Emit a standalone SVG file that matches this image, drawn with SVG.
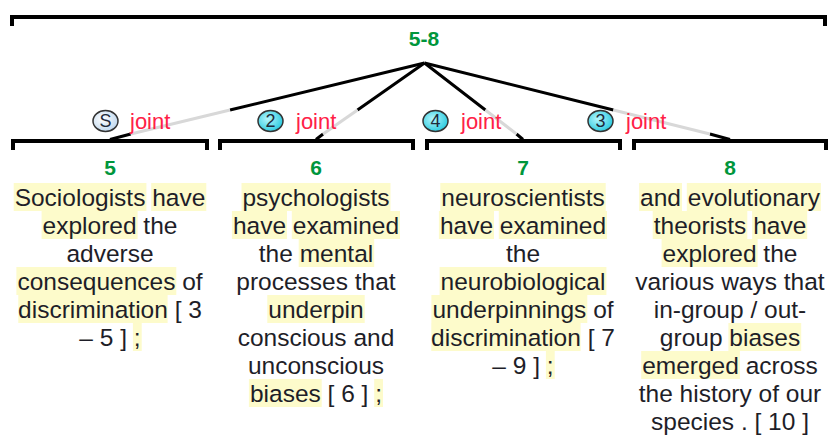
<svg xmlns="http://www.w3.org/2000/svg" width="831" height="435" viewBox="0 0 831 435">
<defs>
<radialGradient id="gS" cx="0.4" cy="0.4" r="0.7"><stop offset="0" stop-color="#ffffff"/><stop offset="1" stop-color="#b9d3ec"/></radialGradient>
<radialGradient id="gN" cx="0.4" cy="0.4" r="0.7"><stop offset="0" stop-color="#b5f6fc"/><stop offset="1" stop-color="#1cc6dc"/></radialGradient>
</defs>
<style>
.br{fill:none;stroke:#000;stroke-width:4;stroke-linejoin:miter}
.ln{stroke:#000;stroke-width:3;fill:none}
.lg{stroke:#d8d8d8;stroke-width:3;fill:none}
.id{font-family:"Liberation Sans",Arial,sans-serif;font-weight:bold;font-size:21px;fill:#00963c;text-anchor:middle}
.tx{font-family:"Liberation Sans",Arial,sans-serif;font-size:24.5px;fill:#1e1e28;text-anchor:middle}
.hl{fill:#fdfbcb}
.rl{font-family:"Liberation Sans",Arial,sans-serif;font-size:22px;fill:#ff2046}
.ct{font-family:"Liberation Sans",Arial,sans-serif;font-size:18px;fill:#1e2a3a;text-anchor:middle}
.cS{fill:url(#gS);stroke:#333;stroke-width:1.5}
.cN{fill:url(#gN);stroke:#333;stroke-width:1.5}
</style>
<rect width="831" height="435" fill="#fff"/>

<g id="connectors">
<path class="ln" d="M424.5 63 L230 110 M130.7 134 L110 139.5"/>
<path class="lg" d="M230 110 L130.7 134"/>
<path class="ln" d="M424.5 63 L357.5 110 M323.1 134 L316 139.5"/>
<path class="lg" d="M357.5 110 L323.1 134"/>
<path class="ln" d="M424.5 63 L485.4 110 M516.5 134 L523 139.5"/>
<path class="lg" d="M485.4 110 L516.5 134"/>
<path class="ln" d="M424.5 63 L613.4 110 M709.9 134 L730 139.5"/>
<path class="lg" d="M613.4 110 L709.9 134"/>
</g>

<g id="rel-5">
<ellipse class="cS" cx="105.5" cy="121" rx="12.5" ry="10.5"/>
<text class="ct" x="105.5" y="127.3">S</text>
<text class="rl" x="130" y="129">joint</text>
</g>
<g id="rel-6">
<ellipse class="cN" cx="270.5" cy="121" rx="12.5" ry="10.5"/>
<text class="ct" x="270.5" y="127.3">2</text>
<text class="rl" x="296" y="129">joint</text>
</g>
<g id="rel-7">
<ellipse class="cN" cx="435.5" cy="121" rx="12.5" ry="10.5"/>
<text class="ct" x="435.5" y="127.3">4</text>
<text class="rl" x="461" y="129">joint</text>
</g>
<g id="rel-8">
<ellipse class="cN" cx="600.5" cy="121" rx="12.5" ry="10.5"/>
<text class="ct" x="600.5" y="127.3">3</text>
<text class="rl" x="626" y="129">joint</text>
</g>

<g id="node-5-8">
<path class="br" d="M12 26 V17 H825 V26"/>
<text class="id" x="424" y="46">5-8</text>
</g>

<g id="node-5">
<path class="br" d="M13 150 V141 H207 V150"/>
<text class="id" x="110" y="175">5</text>
<rect class="hl" x="13.7" y="183" width="132.7" height="28"/>
<rect class="hl" x="151.2" y="183" width="55.1" height="28"/>
<rect class="hl" x="41.6" y="211" width="96" height="28"/>
<rect class="hl" x="16.4" y="267" width="159.9" height="28"/>
<rect class="hl" x="18.3" y="295" width="149.3" height="28"/>
<rect class="hl" x="132.9" y="323" width="8.8" height="28"/>
<text class="tx" x="110" y="206">Sociologists have</text>
<text class="tx" x="110" y="234">explored the</text>
<text class="tx" x="110" y="262">adverse</text>
<text class="tx" x="110" y="290">consequences of</text>
<text class="tx" x="110" y="318">discrimination [ 3</text>
<text class="tx" x="110" y="346">– 5 ] ;</text>
</g>

<g id="node-6">
<path class="br" d="M220 150 V141 H413 V150"/>
<text class="id" x="316" y="175">6</text>
<rect class="hl" x="241.5" y="183" width="149" height="28"/>
<rect class="hl" x="231.9" y="211" width="55.1" height="28"/>
<rect class="hl" x="291.8" y="211" width="108.2" height="28"/>
<rect class="hl" x="298.7" y="239" width="75.5" height="28"/>
<rect class="hl" x="267.3" y="295" width="97.4" height="28"/>
<rect class="hl" x="248.9" y="379" width="72.8" height="28"/>
<rect class="hl" x="374.2" y="379" width="8.8" height="28"/>
<text class="tx" x="316" y="206">psychologists</text>
<text class="tx" x="316" y="234">have examined</text>
<text class="tx" x="316" y="262">the mental</text>
<text class="tx" x="316" y="290">processes that</text>
<text class="tx" x="316" y="318">underpin</text>
<text class="tx" x="316" y="346">conscious and</text>
<text class="tx" x="316" y="374">unconscious</text>
<text class="tx" x="316" y="402">biases [ 6 ] ;</text>
</g>

<g id="node-7">
<path class="br" d="M427 150 V141 H620 V150"/>
<text class="id" x="523" y="175">7</text>
<rect class="hl" x="440.3" y="183" width="165.4" height="28"/>
<rect class="hl" x="438.9" y="211" width="55.1" height="28"/>
<rect class="hl" x="498.8" y="211" width="108.2" height="28"/>
<rect class="hl" x="439.6" y="267" width="166.8" height="28"/>
<rect class="hl" x="431.4" y="295" width="155.9" height="28"/>
<rect class="hl" x="431.3" y="323" width="149.3" height="28"/>
<rect class="hl" x="545.9" y="351" width="8.8" height="28"/>
<text class="tx" x="523" y="206">neuroscientists</text>
<text class="tx" x="523" y="234">have examined</text>
<text class="tx" x="523" y="262">the</text>
<text class="tx" x="523" y="290">neurobiological</text>
<text class="tx" x="523" y="318">underpinnings of</text>
<text class="tx" x="523" y="346">discrimination [ 7</text>
<text class="tx" x="523" y="374">– 9 ] ;</text>
</g>

<g id="node-8">
<path class="br" d="M634 150 V141 H826 V150"/>
<text class="id" x="730" y="175">8</text>
<rect class="hl" x="639.1" y="183" width="42.9" height="28"/>
<rect class="hl" x="686.8" y="183" width="134.1" height="28"/>
<rect class="hl" x="652.7" y="211" width="94.6" height="28"/>
<rect class="hl" x="752.1" y="211" width="55.1" height="28"/>
<rect class="hl" x="661.6" y="239" width="96" height="28"/>
<rect class="hl" x="728.4" y="323" width="72.8" height="28"/>
<rect class="hl" x="641.2" y="351" width="98.7" height="28"/>
<text class="tx" x="730" y="206">and evolutionary</text>
<text class="tx" x="730" y="234">theorists have</text>
<text class="tx" x="730" y="262">explored the</text>
<text class="tx" x="730" y="290">various ways that</text>
<text class="tx" x="730" y="318">in-group / out-</text>
<text class="tx" x="730" y="346">group biases</text>
<text class="tx" x="730" y="374">emerged across</text>
<text class="tx" x="730" y="402">the history of our</text>
<text class="tx" x="730" y="430">species . [ 10 ]</text>
</g>
</svg>
